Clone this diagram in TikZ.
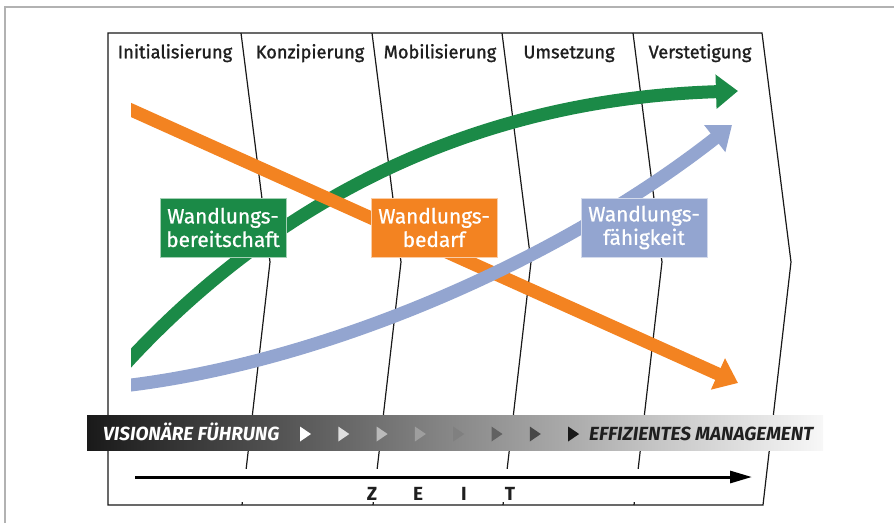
\documentclass[tikz,border=0pt]{standalone}
\usepackage{fontspec}
\setmainfont{Fira Sans}
\newfontfamily\kopffont[FakeBold=1.3]{Fira Sans}
\newfontfamily\feldfont[FakeBold=0.9]{Fira Sans}
\usetikzlibrary{arrows.meta}

\definecolor{wgruen}{HTML}{1B8A47}
\definecolor{worange}{HTML}{F38321}
\definecolor{wblau}{HTML}{93A5D0}

\tikzset{
  phase/.style={font=\kopffont\fontsize{18.2}{20}\selectfont, text=black!88, inner sep=0pt, anchor=base},
  feld/.style={fill=#1, draw=white!60!#1, line width=0.8pt, text=white, align=center,
    font=\feldfont\fontsize{20.8}{23.5}\selectfont, minimum width=126pt, minimum height=59pt, inner sep=0pt},
  pfeil/.style={draw=#1, line width=13pt, -{Triangle[length=22pt,width=33pt]}},
  trenn/.style={draw=black!90, line width=1.2pt},
  band/.style={font=\fontsize{19}{19}\selectfont\bfseries\itshape, inner sep=0pt, anchor=base west},
  zeit/.style={font=\fontsize{19}{19}\selectfont\bfseries, text=black!88, inner sep=0pt, anchor=base},
}

\begin{document}
\begin{tikzpicture}[x=1pt, y=-1pt]
  \useasboundingbox (0,0) rectangle (894,523);
  % outer frame
  \draw[black!30, line width=1.5pt] (5,523) -- (5,7) -- (894,7);

  % phases
  \foreach \x in {241,372,502,633}
    \draw[trenn] (\x,33) -- ({\x+29},262) -- ({\x+1},505);
  \fill[white] (110,469) rectangle (757,502);
  \draw[trenn] (762,33) -- (791,262) -- (763,505) -- (108,505) -- (108,33) -- cycle;
  \node[phase] (p1) at (175,58.3) {Initialisierung};
  \node[phase] (p2) at (310,58.3) {Konzipierung};
  \node[phase] (p3) at (440,58.3) {Mobilisierung};
  \node[phase] (p4) at (569,58.3) {Umsetzung};
  \node[phase] (p5) at (700,58.3) {Verstetigung};

  % curves
  \coordinate (g0) at (121,369);
  \coordinate (g1) at (131,358);
  \coordinate (g2) at (738,91);
  \coordinate (o0) at (120,105);
  \coordinate (o2) at (738,383);
  \coordinate (b0) at (119,386.5);
  \coordinate (b1) at (131,385);
  \coordinate (b2) at (732,125);
  \begin{scope}
    \clip (131,0) rectangle (894,523);
    \draw[pfeil=wgruen] (g0) -- (g1) .. controls (260,220) and (450,100) .. (g2);
    \draw[pfeil=worange] (o0) -- (o2);
    \draw[pfeil=wblau] (b0) -- (b1) .. controls (330,360) and (560,260) .. (b2);
  \end{scope}

  \node[feld=wgruen] (bereit) at (223,227.5) {Wandlungs-\\bereitschaft};
  \node[feld=worange] (bedarf) at (434,227.5) {Wandlungs-\\bedarf};
  \node[feld=wblau] (faehig) at (644,227.5) {Wandlungs-\\fähigkeit};

  % band
  \shade[left color=black!90, middle color=black!50, right color=black!3] (87,415) rectangle (823,450);
  \node[band, text=white] (vis) at (103,440) {VISIONÄRE FÜHRUNG};
  \node[band, text=black!88] (eff) at (589,440) {EFFIZIENTES MANAGEMENT};
  \foreach \c [count=\i from 0] in {0,13,27,38,50,62,72,90}
    \fill[black!\c] ({300+38.3*\i},426.5) -- ++(0,15) -- ++(11,-7.5) -- cycle;

  % time
  \coordinate (t0) at (135,477);
  \coordinate (t1) at (752,477);
  \draw[line width=3pt, -{Triangle[length=22pt,width=12pt]}] (t0) -- (t1);
  \foreach \b [count=\i from 0] in {Z,E,I,T}
    \node[zeit] (z\i) at ({372+46*\i},500) {\b};
\end{tikzpicture}
\end{document}
